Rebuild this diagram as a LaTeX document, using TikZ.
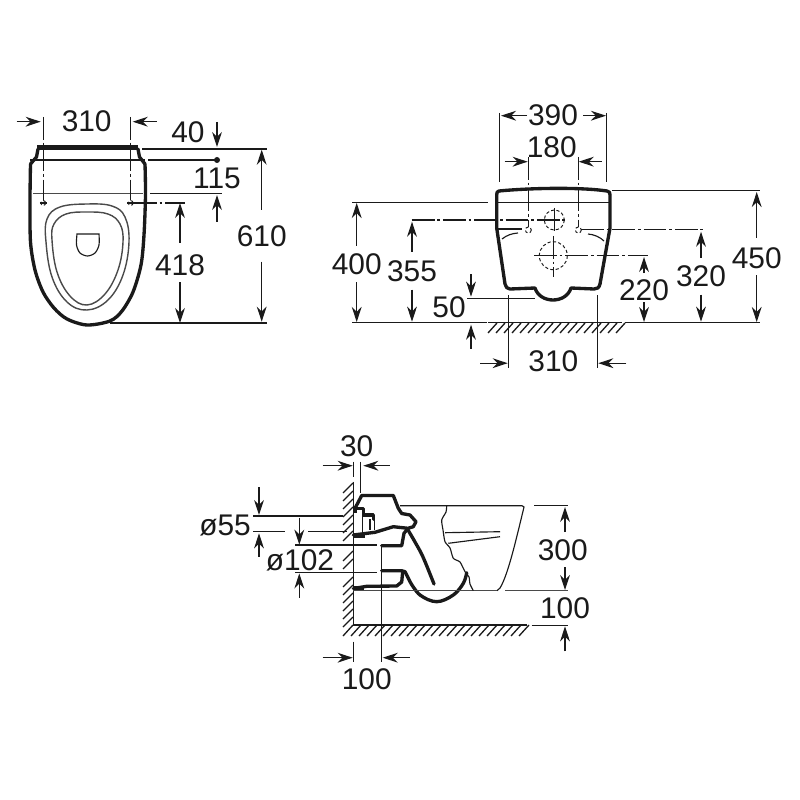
\documentclass[tikz,border=0pt]{standalone}
\usepackage{fontspec}
\setmainfont{Liberation Sans}
\usetikzlibrary{arrows.meta,positioning}
\usetikzlibrary{calc}
\definecolor{inkc}{HTML}{1A1A1A}
\definecolor{seatc}{HTML}{4A4A4A}

\tikzset{
    dimlabel/.style = {text=inkc, inner sep=0, font=\fontsize{17}{19}\selectfont},
    dimarrow/.style = {draw=inkc, line width=0.65pt, -{Stealth[length=8.6pt,width=5.6pt]}},
    extline/.style = {draw=inkc, line width=0.65pt},
    centerline/.style = {draw=inkc, line width=0.65pt, dash pattern=on 13pt off 1.6pt on 1.6pt off 1.6pt},
    hidden/.style = {draw=inkc, line width=0.55pt, dash pattern=on 1.8pt off 1.3pt},
    hatchline/.style = {draw=inkc, line width=0.75pt},
    outline/.style = {draw=inkc, line width=1.9pt, line join=round, line cap=round},
    heavyline/.style = {draw=inkc, line width=2.8pt, line join=round},
    seatline/.style = {draw=seatc, line width=0.8pt},
}

\begin{document}
\begin{tikzpicture}[x=0.02cm, y=-0.02cm]

        \useasboundingbox (0,0) rectangle (800,800);

        % plan view: labels
        \node[dimlabel] (plan_w310) at (86.7,121.7) {310};
        \node[dimlabel] (plan_h40) at (188,132) {40};
        \node[dimlabel] (plan_h115) at (217,178) {115};
        \node[dimlabel] (plan_h418) at (180,265) {418};
        \node[dimlabel] (plan_h610) at (261.7,236.7) {610};

        % plan view: the body
        \draw[heavyline] (37,147.5) -- (138,147.5);
        \draw[outline] (38,149) -- (36.5,157) -- (30.5,164);
        \draw[outline] (138,149) -- (139.5,157) -- (145,164);
        \draw[outline] plot[smooth, tension=0.5] coordinates {(30.5,164) (30,200) (30.5,242) (35,270) (43,292) (54,308) (67,319) (87,325) (110,321) (122,311) (133,292) (141,265) (144,235) (145.5,195) (145,164)};
        \draw[extline] (30,160) -- (145,160);
        \draw[seatline] (33,193.5) -- (143,193.5);

        % plan view: the seat and the lid
        \draw[seatline] plot[smooth cycle, tension=0.65] coordinates {(87,204) (112,206) (125,217) (129,242) (123,275) (108,300) (87,310) (67,302) (52,277) (46,242) (47,219) (60,207)};
        \draw[seatline] plot[smooth cycle, tension=0.65] coordinates {(87,212) (108,214) (120,224) (123,242) (118,270) (105,294) (87,305) (70,296) (57,272) (52,240) (54,224) (66,214)};
        \draw[extline] plot[smooth, tension=0.5] coordinates {(77,234) (76.5,245) (80,253) (87.5,256) (95,253) (99,245) (99,234)} -- cycle;

        % plan view: fixing holes
        \foreach \x in {43.3,130.7} {
            \draw[hidden] (\x,203) circle (2.4);
            \draw[extline] (\x-3.5,203) -- (\x+3.5,203);
        }
        \draw[centerline] (43.3,117) -- (43.3,200);
        \draw[centerline] (130.7,117) -- (130.7,200);
        \draw[centerline] (134,203) -- (185,203);

        % plan view: extension lines
        \draw[extline] (142,149) -- (267,149);
        \draw[extline] (148,160) -- (217,160);
        \draw[extline] (150,193.7) -- (222,193.7);
        \draw[extline] (110,323) -- (267,323);
        \fill[inkc] (217,160) circle (3);

        % plan view: the dimension arrows
        \draw[dimarrow] ($(plan_w310) + (-70,0)$) -- ($(plan_w310) + (-46,0)$);
        \draw[dimarrow] ($(plan_w310) + (70,0)$) -- ($(plan_w310) + (46,0)$);
        \draw[dimarrow] ($(plan_h40) + (29,-10)$) -- ($(plan_h40) + (29,15)$);
        \draw[dimarrow] ($(plan_h115) + (0,44)$) -- ($(plan_h115) + (0,17)$);
        \draw[dimarrow] ($(plan_h418) + (0,-22)$) -- ($(plan_h418) + (0,-62)$);
        \draw[dimarrow] ($(plan_h418) + (0,17)$) -- ($(plan_h418) + (0,58)$);
        \draw[dimarrow] ($(plan_h610) + (0,-27)$) -- ($(plan_h610) + (0,-87)$);
        \draw[dimarrow] ($(plan_h610) + (0,25)$) -- ($(plan_h610) + (0,85)$);

        % front view: labels
        \node[dimlabel] (front_w390) at (553,115.7) {390};
        \node[dimlabel] (front_w180) at (551.7,147.7) {180};
        \node[dimlabel] (front_h400) at (356.7,264) {400};
        \node[dimlabel] (front_h355) at (412,271.7) {355};
        \node[dimlabel] (front_h50) at (449,307.7) {50};
        \node[dimlabel] (front_h220) at (644,290) {220};
        \node[dimlabel] (front_h320) at (701,276.7) {320};
        \node[dimlabel] (front_h450) at (756.7,258) {450};
        \node[dimlabel] (front_w310) at (553.3,361.7) {310};

        % front view: the body
        \draw[outline] (499,191) .. controls (530,188) and (580,187) .. (607,191) .. controls (609.5,191.5) and (610,192.5) .. (610,195) -- (610,228) -- (600,284) .. controls (599,288) and (597,289) .. (594,289) -- (571,288) .. controls (566,304) and (540,304) .. (535,288) -- (510,289) .. controls (507,289) and (506,287) .. (505,284) -- (496.7,228) -- (496.7,195) .. controls (496.7,192.5) and (497,191.5) .. (499,191) -- cycle;
        \draw[extline] (496,202.7) -- (610,202.7);
        \draw[extline] (497,229) -- (522,229);
        \draw[extline] (502,239) .. controls (507,235) and (512,233.5) .. (518,233);
        \draw[extline] (588,234) .. controls (594,234.5) and (600,237) .. (604,241);

        % front view: hidden holes and cross lines
        \draw[hidden] (554.3,220) circle (10);
        \draw[hidden] (553.3,255.7) circle (14);
        \draw[hidden] (528.3,230) circle (3);
        \draw[hidden] (578.3,230) circle (3);
        \draw[centerline] (411.7,220) -- (566,220);
        \draw[centerline] (554.3,208) -- (554.3,231);
        \draw[centerline] (534,255.7) -- (648,255.7);
        \draw[centerline] (553.3,236) -- (553.3,277);
        \draw[centerline] (528.3,157) -- (528.3,227);
        \draw[centerline] (578.3,157) -- (578.3,227);
        \draw[centerline] (581,229.3) -- (705,229.3);

        % front view: the floor
        \draw[extline] (352,322.7) -- (487,322.7);
        \draw[extline] (488,322.7) -- (622,322.7);
        \draw[extline] (625,322.7) -- (760,322.7);
        \foreach \x in {488,496,...,616} {
            \draw[hatchline] (\x,333) -- (\x+9,323);
        }

        % front view: extension lines
        \draw[extline] (499.3,113) -- (499.3,182);
        \draw[extline] (606.7,113) -- (606.7,182);
        \draw[extline] (352,202.5) -- (488,202.5);
        \draw[extline] (612,190.7) -- (760,190.7);
        \draw[extline] (467,298.3) -- (535,298.3);
        \draw[extline] (508.3,295) -- (508.3,368);
        \draw[extline] (597.7,295) -- (597.7,368);

        % front view: the dimension arrows
        \draw[dimarrow] ($(front_w390) + (-26,0)$) -- ($(front_w390) + (-52,0)$);
        \draw[dimarrow] ($(front_w390) + (30,0)$) -- ($(front_w390) + (53,0)$);
        \draw[dimarrow] ($(front_w180) + (-47,14)$) -- ($(front_w180) + (-24,14)$);
        \draw[dimarrow] ($(front_w180) + (50,14)$) -- ($(front_w180) + (27,14)$);
        \draw[dimarrow] ($(front_h400) + (0,-18)$) -- ($(front_h400) + (0,-61)$);
        \draw[dimarrow] ($(front_h400) + (0,18)$) -- ($(front_h400) + (0,58)$);
        \draw[dimarrow] ($(front_h355) + (0,-20)$) -- ($(front_h355) + (0,-50)$);
        \draw[dimarrow] ($(front_h355) + (0,18)$) -- ($(front_h355) + (0,50)$);
        \draw[dimarrow] ($(front_h50) + (22,-33.7)$) -- ($(front_h50) + (22,-11)$);
        \draw[dimarrow] ($(front_h50) + (22,41)$) -- ($(front_h50) + (22,17)$);
        \draw[dimarrow] ($(front_h220) + (0,-17)$) -- ($(front_h220) + (0,-33)$);
        \draw[dimarrow] ($(front_h220) + (0,12)$) -- ($(front_h220) + (0,32)$);
        \draw[dimarrow] ($(front_h320) + (0,-19)$) -- ($(front_h320) + (0,-45)$);
        \draw[dimarrow] ($(front_h320) + (0,18)$) -- ($(front_h320) + (0,45)$);
        \draw[dimarrow] ($(front_h450) + (0,-20)$) -- ($(front_h450) + (0,-66)$);
        \draw[dimarrow] ($(front_h450) + (0,17)$) -- ($(front_h450) + (0,64)$);
        \draw[dimarrow] ($(front_w310) + (-73,1.5)$) -- ($(front_w310) + (-45.6,1.5)$);
        \draw[dimarrow] ($(front_w310) + (73,1.5)$) -- ($(front_w310) + (45,1.5)$);

        % section: labels
        \node[dimlabel] (side_w30) at (356.7,446.7) {30};
        \node[dimlabel] (side_d55) at (225,525) {ø55};
        \node[dimlabel] (side_d102) at (300,560.7) {ø102};
        \node[dimlabel] (side_h300) at (562.7,550) {300};
        \node[dimlabel] (side_h100) at (565,608.3) {100};
        \node[dimlabel] (side_w100) at (366.7,679.3) {100};

        % section: wall and floor
        \draw[extline] (353.3,481.7) -- (353.3,625) -- (527,625);
        \foreach \y in {483,491,...,531,551,559,577,585,...,617} {
            \draw[hatchline] (343,\y+10) -- (353,\y);
        }
        \foreach \x in {343,351,...,519} {
            \draw[hatchline] (\x,636) -- (\x+10,625);
        }

        % section: the tank
        \draw[outline] (355,508.3) -- (361.7,495.5) -- (393.3,495.5) -- (398.3,508.3) -- (401.7,513.5) -- (410,515) -- (416,521.7) -- (413.3,526.7) -- (408,528.3) -- (393.3,526.7) -- (375,532.3) -- (353.3,535);
        \draw[heavyline] (353.3,535.5) -- (365,535.5);
        \draw[heavyline] (355,507) -- (355,513);
        \draw[outline] (355,508.3) -- (363.3,508.3) -- (363.3,515) -- (373.3,515) -- (373.3,519.3);
        \draw[extline] (362.3,516) -- (362.3,532);
        \draw[extline] (370,519) -- (370,530);
        \draw[extline] (374.3,519) -- (374.3,530);

        % section: the drain
        \draw[outline] (381.7,545.7) -- (401.7,545.7) -- (404,533.3) -- (408,528.3);
        \draw[outline] plot[smooth, tension=0.6] coordinates {(408,530) (415,542) (423,557) (434,584)};
        \draw[outline] (381.7,570.7) -- (401.7,570.7) -- (405,571.7) -- (410,581.7) plot[smooth, tension=0.6] coordinates {(410,581.7) (420,595) (436.7,601.7) (453.3,595) (463.3,583.3) (466.7,572.7)};
        \draw[outline] (353.3,588.5) -- (366.7,586.3) -- (396.7,586) -- (401.7,582) -- (402.7,571.7);
        \draw[heavyline] (353.3,588.5) -- (364,588.5);

        % section: the bowl
        \draw[extline] (400,505.7) -- (522,505.7) -- (524,507) .. controls (516,540) and (508,575) .. (500,588) -- (497,590.7);
        \draw[seatline] (353,590.7) -- (497,590.7);
        \draw[extline] plot[smooth, tension=0.4] coordinates {(446.7,505.7) (446,512) (441.7,520) (443,530) (445,541.7) (450,548) (453.3,558.3) (460,562) (465,571.7) (469,577) (470,584) (473.3,590.7)};
        \draw[extline] (445,532.7) -- (500,531.7);
        \draw[extline] (448.3,543.3) -- (500,536.7);

        % section: extension lines
        \draw[extline] (353.3,461.7) -- (353.3,476.7);
        \draw[extline] (360.7,461.7) -- (360.7,493);
        \draw[extline] (253.3,516) -- (343.3,516);
        \draw[extline] (253,531.7) -- (285,531.7);
        \draw[extline] (308.3,531.7) -- (346.7,531.7);
        \draw[extline] (295,545) -- (376.7,545);
        \draw[extline] (295,572.7) -- (376.7,572.7);
        \draw[extline] (381.3,545) -- (381.3,661.7);
        \draw[extline] (353.3,641.7) -- (353.3,661.7);
        \draw[extline] (534,505.7) -- (568,505.7);
        \draw[seatline] (505,590.7) -- (568,590.7);
        \draw[extline] (531.7,625.7) -- (568,625.7);

        % section: the dimension arrows
        \draw[dimarrow] ($(side_w30) + (-34,19)$) -- ($(side_w30) + (-4,19)$);
        \draw[dimarrow] ($(side_w30) + (33,19)$) -- ($(side_w30) + (6.6,19)$);
        \draw[dimarrow] ($(side_d55) + (34,-37.7)$) -- ($(side_d55) + (34,-10)$);
        \draw[dimarrow] ($(side_d55) + (34,31.7)$) -- ($(side_d55) + (34,8.3)$);
        \draw[dimarrow] ($(side_d102) + (-0.7,-43)$) -- ($(side_d102) + (-0.7,-16)$);
        \draw[dimarrow] ($(side_d102) + (-0.7,37)$) -- ($(side_d102) + (-0.7,12.7)$);
        \draw[dimarrow] ($(side_h300) + (2.3,-18)$) -- ($(side_h300) + (2.3,-43)$);
        \draw[dimarrow] ($(side_h300) + (2.3,17)$) -- ($(side_h300) + (2.3,40)$);
        \draw[dimarrow] ($(side_h100) + (0,43)$) -- ($(side_h100) + (0,18)$);
        \draw[dimarrow] ($(side_w100) + (-44,-21.6)$) -- ($(side_w100) + (-14,-21.6)$);
        \draw[dimarrow] ($(side_w100) + (43,-21.6)$) -- ($(side_w100) + (16,-21.6)$);

\end{tikzpicture}
\end{document}
